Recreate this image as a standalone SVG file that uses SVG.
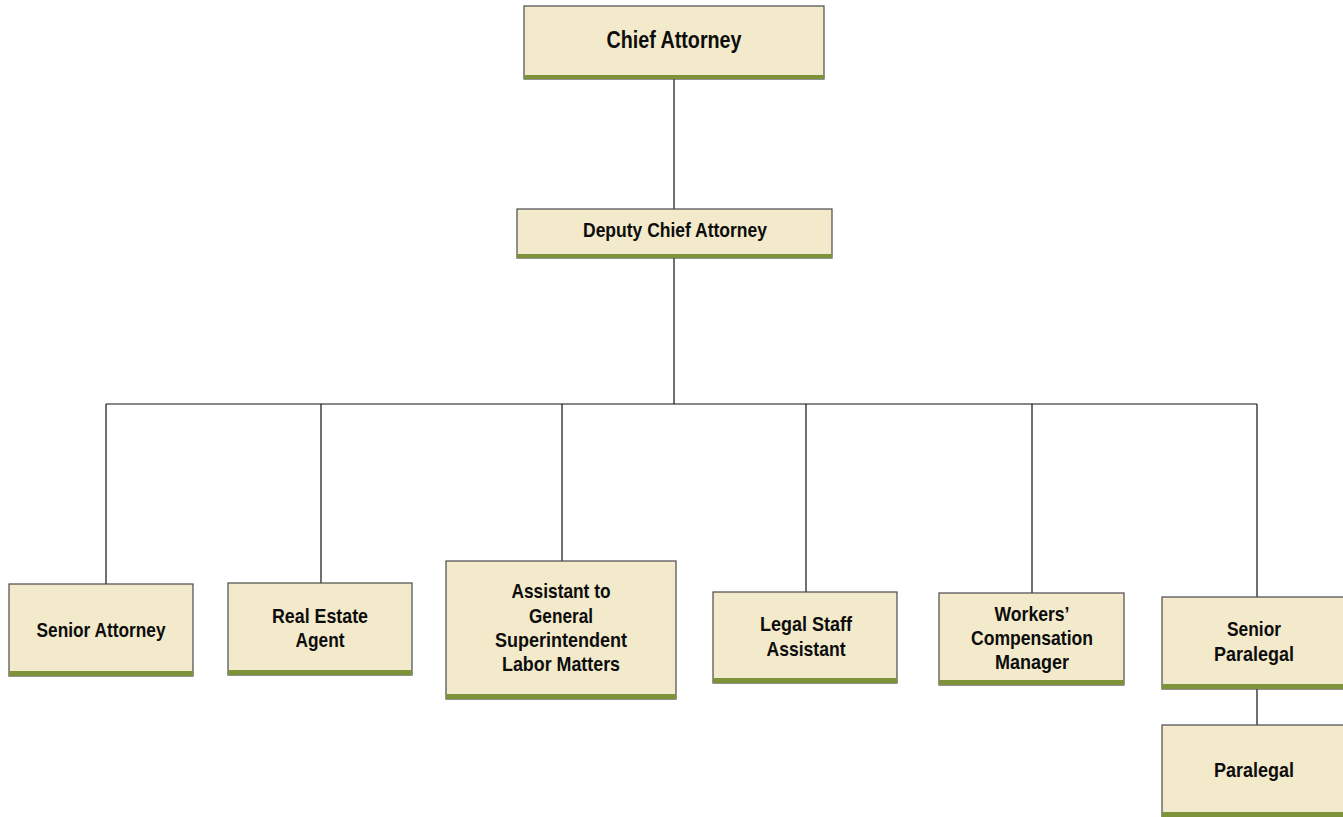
<svg xmlns="http://www.w3.org/2000/svg" width="1343" height="817" viewBox="0 0 1343 817">
  <style>
    .box { fill: #F3EACB; stroke: #4a4a4a; stroke-width: 1.2; }
    .bar { fill: #7E9239; }
    .lbl { font-family: "Liberation Sans", Arial, sans-serif; font-weight: bold; fill: #0d0d0d; text-anchor: middle; }
    .l20 { font-size: 21px; }
    .conn { stroke: #111; stroke-width: 1.2; fill: none; }
  </style>
  <rect width="1343" height="817" fill="#ffffff"/>

  <g id="connectors">
    <line class="conn" x1="674" y1="79" x2="674" y2="209"/>
    <line class="conn" x1="674" y1="258" x2="674" y2="404"/>
    <line class="conn" x1="106" y1="404" x2="1257" y2="404"/>
    <line class="conn" x1="106" y1="404" x2="106" y2="584"/>
    <line class="conn" x1="321" y1="404" x2="321" y2="583"/>
    <line class="conn" x1="562" y1="404" x2="562" y2="561"/>
    <line class="conn" x1="806" y1="404" x2="806" y2="592"/>
    <line class="conn" x1="1032" y1="404" x2="1032" y2="593"/>
    <line class="conn" x1="1257" y1="404" x2="1257" y2="597"/>
    <line class="conn" x1="1257" y1="689" x2="1257" y2="725"/>
  </g>

  <g id="chief-attorney">
    <rect class="box" x="524" y="6" width="300" height="73"/>
    <rect class="bar" x="524" y="75" width="300" height="4"/>
    <text class="lbl" x="674" y="48" font-size="24" textLength="135" lengthAdjust="spacingAndGlyphs">Chief Attorney</text>
  </g>

  <g id="deputy-chief-attorney">
    <rect class="box" x="517" y="209" width="315" height="49"/>
    <rect class="bar" x="517" y="254" width="315" height="4"/>
    <text class="lbl" x="675" y="237" font-size="20" textLength="184" lengthAdjust="spacingAndGlyphs">Deputy Chief Attorney</text>
  </g>

  <g id="senior-attorney">
    <rect class="box" x="9" y="584" width="184" height="92"/>
    <rect class="bar" x="9" y="671" width="184" height="5"/>
    <text class="lbl l20" x="101" y="637" textLength="129" lengthAdjust="spacingAndGlyphs">Senior Attorney</text>
  </g>

  <g id="real-estate-agent">
    <rect class="box" x="228" y="583" width="184" height="92"/>
    <rect class="bar" x="228" y="670" width="184" height="5"/>
    <text class="lbl l20" x="320" y="623" textLength="96" lengthAdjust="spacingAndGlyphs">Real Estate</text>
    <text class="lbl l20" x="320" y="647" textLength="49" lengthAdjust="spacingAndGlyphs">Agent</text>
  </g>

  <g id="assistant-general-superintendent">
    <rect class="box" x="446" y="561" width="230" height="138"/>
    <rect class="bar" x="446" y="694" width="230" height="5"/>
    <text class="lbl l20" x="561" y="598" textLength="99" lengthAdjust="spacingAndGlyphs">Assistant to</text>
    <text class="lbl l20" x="561" y="623" textLength="64" lengthAdjust="spacingAndGlyphs">General</text>
    <text class="lbl l20" x="561" y="647" textLength="132" lengthAdjust="spacingAndGlyphs">Superintendent</text>
    <text class="lbl l20" x="561" y="671" textLength="118" lengthAdjust="spacingAndGlyphs">Labor Matters</text>
  </g>

  <g id="legal-staff-assistant">
    <rect class="box" x="713" y="592" width="184" height="91"/>
    <rect class="bar" x="713" y="678" width="184" height="5"/>
    <text class="lbl l20" x="806" y="631" textLength="92" lengthAdjust="spacingAndGlyphs">Legal Staff</text>
    <text class="lbl l20" x="806" y="656" textLength="79" lengthAdjust="spacingAndGlyphs">Assistant</text>
  </g>

  <g id="workers-compensation-manager">
    <rect class="box" x="939" y="593" width="185" height="92"/>
    <rect class="bar" x="939" y="680" width="185" height="5"/>
    <text class="lbl l20" x="1032" y="621" textLength="75" lengthAdjust="spacingAndGlyphs">Workers’</text>
    <text class="lbl l20" x="1032" y="645" textLength="122" lengthAdjust="spacingAndGlyphs">Compensation</text>
    <text class="lbl l20" x="1032" y="669" textLength="74" lengthAdjust="spacingAndGlyphs">Manager</text>
  </g>

  <g id="senior-paralegal">
    <rect class="box" x="1162" y="597" width="184" height="92"/>
    <rect class="bar" x="1162" y="684" width="184" height="5"/>
    <text class="lbl l20" x="1254" y="636" textLength="54" lengthAdjust="spacingAndGlyphs">Senior</text>
    <text class="lbl l20" x="1254" y="661" textLength="80" lengthAdjust="spacingAndGlyphs">Paralegal</text>
  </g>

  <g id="paralegal">
    <rect class="box" x="1162" y="725" width="184" height="95"/>
    <rect class="bar" x="1162" y="812" width="184" height="5"/>
    <text class="lbl l20" x="1254" y="777" textLength="80" lengthAdjust="spacingAndGlyphs">Paralegal</text>
  </g>
</svg>
